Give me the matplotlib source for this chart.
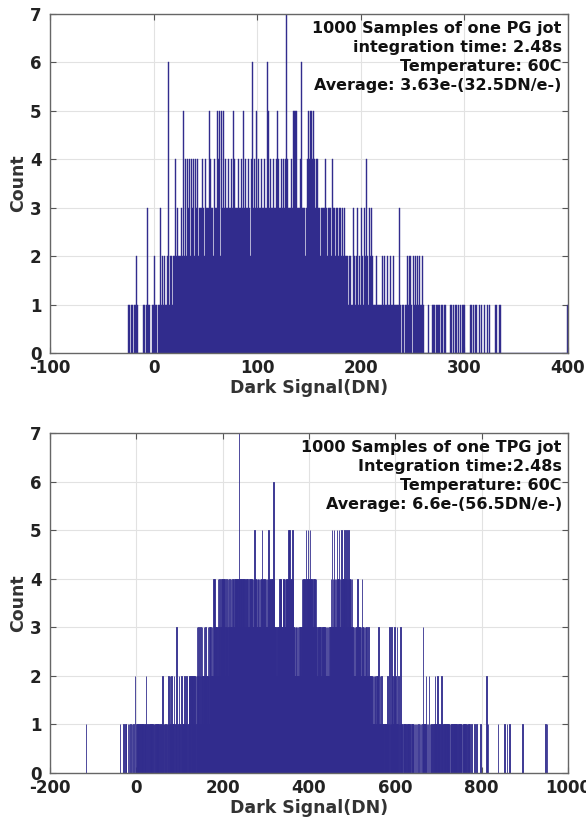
import matplotlib.pyplot as plt
import numpy as np

plt.rcParams['axes.unicode_minus'] = False

# counts per 1 DN bin (one digit per bin)
PG_START = -25
PG_COUNTS = [
    "1101101121000001101311011",      # -25 .. -1
    "21101131212112612212",           # 0 .. 19
    "2423223252424342434243423",      # 20 .. 44
    "3343243354332433545253534334334354334334353433432463435",  # 45 .. 99
    "343343343653433433454334343474333435553334633323454554543443",  # 100 .. 159
    "323334323332433233233232322212",  # 160 .. 189
    "21321231213213242132321112111121211211211211111310",  # 190 .. 239
    "110112121021212121121000010001110111011011000011010110101011",  # 240 .. 299
    "10000110101100101001001010000010011",  # 300 .. 334
    "0" * 64 + "1",                   # 335 .. 399
]

TPG_START = -120
TPG_COUNTS = [
    "00010000000000000000",           # -120 .. -101
    "0" * 60,                         # -100 .. -41
    "0010000000" "1000101000" "1001001000" "1001000200",  # -40 .. -1
    "1010110101" "0110101101" "1120110101" "1011010110" "1101101011",
    "1110101101" "2101101110" "1101210121" "1211011201" "1013101121",  # 0 .. 99
    "1101211011" "1211012101" "1212120212" "2121212021" "3212321232",
    "1232123212" "3221232123" "2322232243" "2423232324" "3242333434",  # 100 .. 199
    "3433423343" "3243343234" "3342433434" "4344434374" "3444343443",
    "4434343433" "3343434343" "4345434434" "3443434344" "5434434343",  # 200 .. 299
    "4343435344" "3434343634" "3333232333" "3434343334" "4343434434",
    "4353534344" "3534332323" "3232322333" "3234343434" "4353434543",  # 300 .. 399
    "3454343433" "4343434322" "3232323223" "2323232323" "2323222323",
    "3435343453" "4343534345" "3434353434" "4353435343" "4534343434",  # 400 .. 499
    "3232323232" "3242323232" "3243232323" "2323222322" "2121212121",
    "2122112121" "1311211211" "1110111111" "1211013101" "1312112131",  # 500 .. 599
    "2113110210" "1310110010" "1101101011" "1010100101" "1101010100",
    "1001000101" "0013010101" "0201010020" "1011010110" "1201110211",  # 600 .. 699
    "1101102110" "1101011011" "1101101011" "1010110111" "1101011010",
    "1110101101" "1011011011" "0100001000" "0001000010" "0000000100",  # 700 .. 799
    "0000000000" "0210100000" "0000000000" "0000000100" "0000000000",
    "0010000010" "0000100000" "0000000000" "0000000000" "0000100000",  # 800 .. 899
    "0000000000" "0000000000" "0000000000" "0000000000" "0000000100",
    "0100000000",                     # 900 .. 959
]

PG_TEXT = ("1000 Samples of one PG jot\nintegration time: 2.48s\n"
           "Temperature: 60C\nAverage: 3.63e-(32.5DN/e-)")
TPG_TEXT = ("1000 Samples of one TPG jot\nIntegration time:2.48s\n"
            "Temperature: 60C\nAverage: 6.6e-(56.5DN/e-)")

BAR_COLOR = '#312c8d'


def decode(start, chunks):
    counts = np.array([int(c) for c in ''.join(chunks)])
    bins = start + np.arange(len(counts))
    return bins, counts


def draw_hist(ax, start, chunks, xlim, xticks, text, edge_lw):
    bins, counts = decode(start, chunks)
    ax.bar(bins, counts, width=1.0, align='edge', color=BAR_COLOR,
           edgecolor=BAR_COLOR, linewidth=edge_lw, zorder=2)
    ax.set_xlim(*xlim)
    ax.set_ylim(0, 7)
    ax.set_xticks(xticks)
    ax.set_yticks(range(0, 8))
    ax.grid(True, color='#e2e2e2', linewidth=0.8, zorder=0)
    ax.set_axisbelow(True)
    ax.tick_params(direction='in', length=4, top=True, right=True,
                   labelsize=12, color='#555555')
    ax.tick_params(axis='x', pad=4)
    ax.tick_params(axis='y', pad=6)
    for lab in ax.get_xticklabels() + ax.get_yticklabels():
        lab.set_fontweight('bold')
        lab.set_color('#222222')
    for sp in ax.spines.values():
        sp.set_color('#666666')
        sp.set_linewidth(1.0)
    ax.set_xlabel('Dark Signal(DN)', fontsize=12.5, fontweight='bold',
                  color='#333333', labelpad=2)
    ax.set_ylabel('Count', fontsize=12.5, fontweight='bold',
                  color='#333333', labelpad=2)
    ax.text(0.988, 0.978, text, transform=ax.transAxes, ha='right', va='top',
            fontsize=11.5, fontweight='bold', color='#111111', linespacing=1.32,
            zorder=5)


fig = plt.figure(figsize=(5.86, 8.24), dpi=100)
ax1 = fig.add_axes([0.0853, 0.5716, 0.884, 0.4114])
ax2 = fig.add_axes([0.0853, 0.0619, 0.884, 0.4126])

draw_hist(ax1, PG_START, PG_COUNTS, (-100, 400), range(-100, 401, 100),
          PG_TEXT, 0.3)
draw_hist(ax2, TPG_START, TPG_COUNTS, (-200, 1000), range(-200, 1001, 200),
          TPG_TEXT, 0.6)

fig.savefig('out.png', dpi=100)
